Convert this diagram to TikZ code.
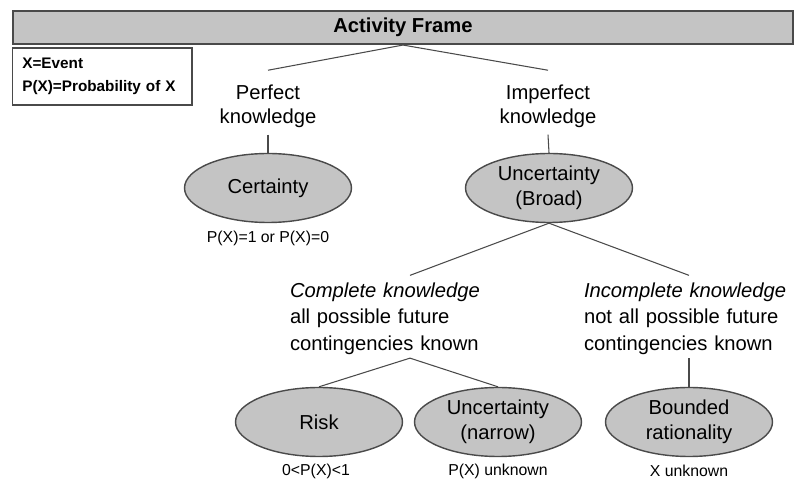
\documentclass[tikz,border=0pt]{standalone}
\usepackage{fontspec}
\setmainfont{Liberation Sans}
\usetikzlibrary{shapes.geometric}

\definecolor{ovalgray}{HTML}{C4C4C4}
\definecolor{edgegray}{HTML}{4A4A4A}

\tikzset{
  oval/.style={ellipse, draw=edgegray, fill=ovalgray, line width=0.8pt,
    minimum width=3.34cm, minimum height=1.38cm, inner sep=0pt, align=center,
    font=\fontsize{11.5}{14.2}\selectfont},
  branch/.style={align=center, inner sep=2pt, font=\fontsize{11.5}{13.6}\selectfont},
  case/.style={align=left, inner sep=2pt, font=\fontsize{11.5}{15}\selectfont},
  note/.style={font=\fontsize{9}{10}\selectfont},
  link/.style={draw=edgegray, line width=0.6pt},
}

\begin{document}
\begin{tikzpicture}[x=0.02cm, y=-0.02cm]
		\useasboundingbox (0, 0) rectangle (795, 479);

		% cadre
		\node[draw=edgegray, fill=ovalgray, line width=1.2pt, minimum width=15.62cm,
		  minimum height=0.66cm, inner sep=0pt, font=\fontsize{11.5}{13}\selectfont\bfseries]
		  (frame) at (403, 27.5) {Activity Frame};

		% legende
		\node[draw=edgegray, line width=0.8pt, anchor=west, text width=91pt, inner xsep=5.5pt,
		  minimum height=1.14cm, align=left, font=\fontsize{8.7}{13}\selectfont\bfseries]
		  (legend) at (12, 76.5) {X=Event\\P(X)=Probability of X};

		% premier niveau
		\node[branch] (perfect) at (268, 106) {Perfect\\knowledge};
		\node[branch] (imperfect) at (548, 106) {Imperfect\\knowledge};

		\node[oval] (certainty) at (268, 188) {Certainty};
		\node[oval] (broad) at (549, 188) {Uncertainty\\(Broad)};

		\node[note] (certp) at (268, 238) {P(X)=1 or P(X)=0};

		% deuxieme niveau
		\node[case, text width=4.8cm] (complete) at (410, 318.5)
		  {\textit{Complete knowledge}\\all possible future\\contingencies known};
		\node[case, text width=4.2cm] (incomplete) at (689, 318.5)
		  {\textit{Incomplete knowledge}\\not all possible future\\contingencies known};

		% troisieme niveau
		\node[oval] (risk) at (319, 422) {Risk};
		\node[oval] (narrow) at (498, 422) {Uncertainty\\(narrow)};
		\node[oval] (bounded) at (689, 422) {Bounded\\rationality};

		\node[note] (riskp) at (316, 471) {0<P(X)<1};
		\node[note] (narrowp) at (498, 471) {P(X) unknown};
		\node[note] (boundedp) at (689, 471) {X unknown};

		% liaisons
		\draw[link] (frame.south) -- ([yshift=6pt]perfect.north);
		\draw[link] (frame.south) -- ([yshift=6pt]imperfect.north);
		\draw[link] ([yshift=-2pt]perfect.south) -- (certainty.north);
		\draw[link] ([yshift=-2pt]imperfect.south) -- (broad.north);
		\draw[link] (broad.south) -- ([yshift=2pt]complete.north);
		\draw[link] (broad.south) -- ([yshift=2pt]incomplete.north);
		\draw[link] (complete.south) -- (risk.north);
		\draw[link] (complete.south) -- (narrow.north);
		\draw[link] (incomplete.south) -- (bounded.north);
\end{tikzpicture}
\end{document}
